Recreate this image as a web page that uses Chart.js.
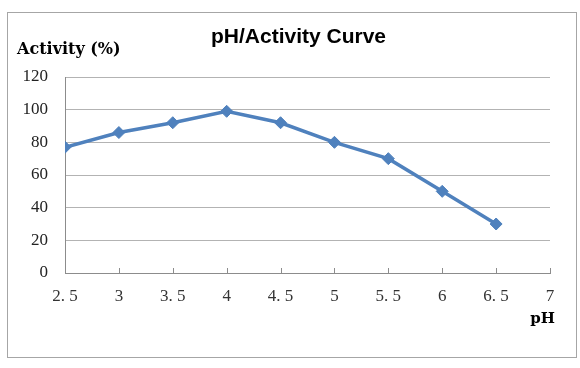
<!DOCTYPE html>
<html>
<head>
<meta charset="utf-8">
<script src="https://cdn.jsdelivr.net/npm/chart.js@4"></script>
<style>
  html, body { margin: 0; padding: 0; background: #fff; }
  #wrap { width: 580px; height: 368px; position: relative; }
</style>
</head>
<body>
<div id="wrap"><canvas id="myChart" width="580" height="368"></canvas></div>
<script>
// data
var phValues = [2.5, 3, 3.5, 4, 4.5, 5, 5.5, 6, 6.5];
var activity = [77, 86, 92, 99, 92, 80, 70, 50, 30];
var xTickLabels = ['2. 5', '3', '3. 5', '4', '4. 5', '5', '5. 5', '6', '6. 5', '7'];
var yTicks = [0, 20, 40, 60, 80, 100, 120];

var chartTitle = 'pH/Activity Curve';
var yTitle = 'Activity (%)';
var xTitle = 'pH';

// texts, frame and the inside tick marks of the x axis
var decor = {
    id: 'decor',
    beforeDraw: function (chart) {
        var ctx = chart.ctx;
        ctx.save();
        ctx.fillStyle = '#fff';
        ctx.fillRect(0, 0, chart.width, chart.height);
        ctx.strokeStyle = '#a6a6a6';
        ctx.lineWidth = 1;
        ctx.strokeRect(7.5, 12.5, 569, 345);
        ctx.restore();
    },
    beforeDatasetsDraw: function (chart) {
        var ctx = chart.ctx, sx = chart.scales.x, bottom = chart.chartArea.bottom;
        ctx.save();
        ctx.strokeStyle = '#8c8c8c';
        ctx.lineWidth = 1;
        ctx.beginPath();
        sx.ticks.forEach(function (t) {
            var px = Math.round(sx.getPixelForValue(t.value)) + 0.5;
            ctx.moveTo(px, bottom);
            ctx.lineTo(px, bottom - 5);
        });
        ctx.stroke();
        ctx.restore();
    },
    afterDraw: function (chart) {
        var ctx = chart.ctx;
        ctx.save();
        ctx.fillStyle = '#000';
        ctx.textBaseline = 'alphabetic';
        ctx.font = 'bold 21px "Liberation Sans", Arial, sans-serif';
        ctx.textAlign = 'center';
        ctx.fillText(chartTitle, 298.5, 43);
        ctx.font = 'bold 16px "DejaVu Serif", serif';
        ctx.textAlign = 'left';
        ctx.fillText(yTitle, 17, 54);
        ctx.font = 'bold 15px "DejaVu Serif", serif';
        ctx.textAlign = 'right';
        ctx.fillText(xTitle, chart.scales.x.right + 5, 323);
        ctx.restore();
    }
};

var ctx = document.getElementById('myChart').getContext('2d');
var myChart = new Chart(ctx, {
    type: 'line',
    data: {
        datasets: [{
            label: 'Activity',
            data: phValues.map(function (p, i) { return { x: p, y: activity[i] }; }),
            borderColor: '#4f81bd',
            backgroundColor: '#4f81bd',
            borderWidth: 3.5,
            pointStyle: 'rectRot',
            pointRadius: 6,
            pointBorderWidth: 1,
            tension: 0
        }]
    },
    options: {
        responsive: false,
        animation: false,
        layout: { padding: { top: 77, left: 0, right: 30, bottom: 0 } },
        plugins: {
            legend: { display: false },
            tooltip: { enabled: false }
        },
        scales: {
            x: {
                type: 'linear',
                min: 2.5,
                max: 7,
                afterFit: function (s) { s.height = 95; },
                ticks: {
                    stepSize: 0.5,
                    color: '#333333',
                    padding: 13,
                    maxRotation: 0,
                    autoSkip: false,
                    font: { family: '"Liberation Serif", serif', size: 17 },
                    callback: function (v) {
                        var i = Math.round((v - 2.5) / 0.5);
                        return xTickLabels[i];
                    }
                },
                grid: { display: true, drawOnChartArea: false, drawTicks: false, color: '#8c8c8c' },
                border: { color: '#8c8c8c' }
            },
            y: {
                min: 0,
                max: 120,
                afterFit: function (s) { s.width = 65; },
                afterBuildTicks: function (s) { s.ticks = yTicks.map(function (v) { return { value: v }; }); },
                ticks: {
                    color: '#222222',
                    padding: 17,
                    font: { family: '"Liberation Serif", serif', size: 17 }
                },
                grid: { color: '#b3b3b3', drawTicks: false },
                border: { color: '#8c8c8c' }
            }
        }
    },
    plugins: [decor]
});
</script>
</body>
</html>
